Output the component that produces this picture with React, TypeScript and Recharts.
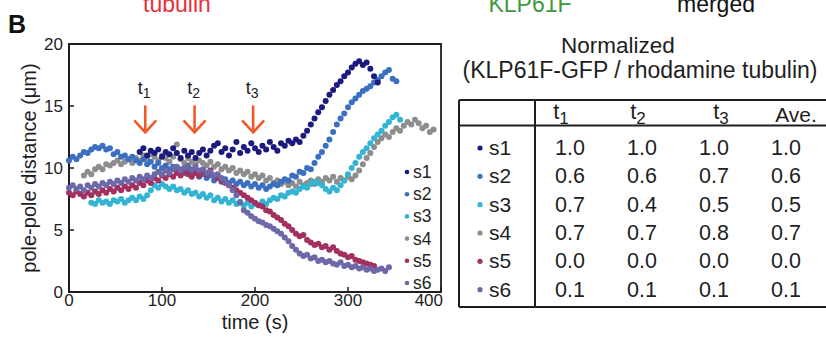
import {
  ScatterChart,
  Scatter,
  XAxis,
  YAxis,
  ReferenceArea,
  ReferenceDot,
  Legend,
} from "recharts"

// sample times (s), shared by all six spindles
const times = [
  0, 4, 8, 12, 16, 20, 24, 28, 32, 36, 40, 44, 48, 52, 56, 60, 64, 68, 72, 76,
  80, 84, 88, 92, 96, 100, 104, 108, 112, 116, 120, 124, 128, 132, 136, 140, 144, 148, 152, 156,
  160, 164, 168, 172, 176, 180, 184, 188, 192, 196, 200, 204, 208, 212, 216, 220, 224, 228, 232, 236,
  240, 244, 248, 252, 256, 260, 264, 268, 272, 276, 280, 284, 288, 292, 296, 300, 304, 308, 312, 316,
  320, 324, 328, 332, 336, 340, 344, 348, 352, 356, 360, 364, 368, 372, 376, 380, 384, 388, 392, 396,
]

const _ = null

// pole-pole distance (µm)
const s1 = [
  _, _, _, _, _, _, _, _, _, _, _, _, _, _, _, _, _, _, _, 11.3,
  11.6, 11.0, 11.4, 11.2, 11.5, 10.9, 11.3, 11.1, 11.6, 11.2, 10.8, 11.4, 11.0, 11.3, 10.8, 11.2, 11.5, 11.0, 11.4, 11.8,
  12.0, 11.3, 11.6, 11.0, 11.5, 12.1, 11.2, 11.7, 11.4, 12.0, 11.6, 11.3, 11.8, 11.5, 12.1, 11.7, 11.4, 12.0, 11.8, 12.2,
  12.0, 12.3, 12.1, 12.6, 13.0, 13.5, 14.0, 14.5, 14.9, 15.4, 15.9, 16.3, 16.7, 17.0, 17.4, 17.7, 18.1, 18.4, 18.6, 18.3,
  18.5, 18.0, 17.4, 16.9, _, _, _, _, _, _, _, _, _, _, _, _, _, _, _, _,
]
const s2 = [
  10.6, 10.9, 10.7, 11.0, 11.3, 11.2, 11.5, 11.7, 11.6, 11.8, 11.5, 11.6, 11.1, 11.3, 10.9, 11.0, 10.7, 10.9, 10.6, 10.4,
  10.7, 10.3, 10.5, 10.1, 10.4, 10.0, 10.2, 9.9, 10.1, 9.7, 9.9, 9.6, 9.8, 9.5, 9.7, 9.3, 9.5, 9.2, 9.4, 9.0,
  9.2, 8.9, 9.1, 8.8, 9.0, 8.7, 8.9, 8.6, 8.8, 8.5, 8.7, 8.4, 8.6, 8.3, 8.5, 8.7, 8.6, 8.9, 9.1, 9.0,
  9.4, 9.3, 9.7, 9.6, 10.0, 9.9, 10.4, 10.9, 11.3, 11.8, 12.3, 12.9, 13.5, 14.0, 14.4, 14.9, 15.3, 15.6, 15.9, 16.2,
  16.4, 16.6, 16.9, 17.1, 17.4, 17.7, 17.9, 17.2, 17.0, _, _, _, _, _, _, _, _, _, _, _,
]
const s3 = [
  _, _, _, _, _, _, 7.2, 7.1, 7.4, 7.2, 7.3, 7.1, 7.4, 7.3, 7.5, 7.2, 7.4, 7.6, 7.4, 7.7,
  7.5, 7.8, 8.2, 8.6, 8.4, 8.7, 8.5, 8.3, 8.5, 8.2, 8.3, 8.0, 8.2, 7.9, 8.0, 7.7, 7.9, 7.6, 7.8, 7.4,
  7.6, 7.3, 7.5, 7.2, 7.4, 7.1, 7.3, 7.0, 7.2, 6.9, 7.1, 7.0, 7.3, 7.1, 7.4, 7.6, 7.5, 7.8, 7.7, 8.0,
  8.1, 8.0, 8.3, 8.5, 8.4, 8.7, 8.9, 8.8, 8.6, 8.3, 8.1, 8.4, 8.2, 8.6, 9.0, 9.5, 10.0, 10.4, 10.9, 11.3,
  11.6, 12.0, 12.4, 12.7, 13.0, 13.4, 13.7, 14.1, 14.3, 13.9, _, _, _, _, _, _, _, _, _, _,
]
const s4 = [
  _, _, _, _, 9.4, 9.7, 9.5, 9.9, 10.1, 9.9, 10.3, 10.2, 10.4, 10.6, 10.3, 10.5, 10.7, 10.4, 10.8, 10.6,
  11.0, 10.7, 11.1, 10.9, 10.6, 11.0, 10.8, 10.5, 10.9, 11.9, 10.7, 10.4, 10.8, 10.5, 10.3, 10.6, 10.4, 10.2, 10.5, 10.1,
  10.3, 9.9, 10.1, 9.8, 10.0, 9.6, 9.8, 9.5, 9.7, 9.3, 9.5, 9.2, 9.4, 9.0, 9.2, 8.8, 9.0, 8.7, 8.9, 8.6,
  8.8, 8.5, 8.9, 8.6, 8.8, 9.0, 8.7, 9.1, 8.9, 9.2, 9.0, 9.3, 8.9, 9.2, 9.0, 9.3, 9.1, 9.4, 9.8, 10.3,
  10.8, 11.2, 11.7, 12.1, 12.4, 12.7, 12.5, 12.9, 13.2, 13.0, 13.4, 13.7, 13.5, 13.9, 13.6, 13.2, 13.4, 12.9, 13.1, _,
]
const s5 = [
  8.0, 7.8, 8.1, 7.9, 7.7, 8.0, 7.8, 8.1, 7.9, 8.2, 8.0, 8.3, 8.1, 8.4, 8.2, 8.5, 8.3, 8.6, 8.4, 8.8,
  8.6, 9.0, 8.8, 9.2, 9.0, 9.4, 9.2, 9.5, 9.3, 9.6, 9.4, 9.7, 9.5, 9.3, 9.6, 9.4, 9.7, 9.5, 9.8, 9.4,
  9.2, 9.0, 8.8, 8.6, 8.4, 8.2, 8.0, 7.8, 7.6, 7.4, 7.2, 7.0, 6.9, 6.6, 6.5, 6.2, 6.0, 5.8, 5.5, 5.3,
  5.0, 4.7, 4.5, 4.6, 4.2, 4.0, 3.8, 3.9, 3.6, 3.7, 3.4, 3.6, 3.3, 3.1, 3.0, 2.8, 2.9, 2.6, 2.5, 2.4,
  2.3, 2.2, 2.1, _, _, _, _, _, _, _, _, _, _, _, _, _, _, _, _, _,
]
const s6 = [
  8.4, 8.6, 8.3, 8.5, 8.2, 8.6, 8.4, 8.7, 8.5, 8.8, 8.6, 8.9, 8.7, 9.0, 8.8, 9.1, 8.9, 9.2, 9.0, 9.3,
  9.1, 9.4, 9.2, 9.5, 9.7, 9.5, 9.8, 9.6, 9.9, 10.1, 9.8, 10.0, 10.2, 9.9, 10.1, 9.8, 9.9, 9.6, 9.7, 9.4,
  9.5, 9.2, 8.9, 8.6, 8.2, 7.8, 7.2, 6.6, 6.4, 6.1, 5.9, 5.7, 5.6, 5.4, 5.3, 5.1, 4.9, 4.7, 4.4, 4.1,
  3.7, 3.4, 3.1, 2.9, 3.0, 2.7, 2.8, 2.5, 2.6, 2.4, 2.5, 2.3, 2.2, 2.4, 2.1, 2.2, 2.0, 2.1, 1.9, 2.0,
  1.8, 1.9, 1.7, 1.8, 1.9, 1.7, 2.0, _, _, _, _, _, _, _, _, _, _, _, _, _,
]

const seriesNames = ["s1", "s2", "s3", "s4", "s5", "s6"]
const seriesValues = [s1, s2, s3, s4, s5, s6]
const seriesColors = ["#1b1a7e", "#3b6fc2", "#33b4d4", "#8d8d8d", "#a3305f", "#6d68a8"]
// drawing order, back to front
const drawOrder = [3, 2, 1, 4, 5, 0]

const xTicks = [0, 100, 200, 300, 400]
const yTicks = [0, 5, 10, 15, 20]

// arrows marking the measurement time points
const arrowTimes = [82, 135, 198]
const arrowLabels = ["1", "2", "3"]

// table: normalized KLP61F-GFP / rhodamine tubulin
const tableCols = ["1", "2", "3"]
const t1Vals = [1.0, 0.6, 0.7, 0.7, 0.0, 0.1]
const t2Vals = [1.0, 0.6, 0.4, 0.7, 0.0, 0.1]
const t3Vals = [1.0, 0.7, 0.5, 0.8, 0.0, 0.1]
const aveVals = [1.0, 0.6, 0.5, 0.7, 0.0, 0.1]

const FONT = "'Liberation Sans', Arial, Helvetica, sans-serif"
const INK = "#1e1e1e"
const ARROW = "#f05a28"

const buildPoints = (vals: (number | null)[]) =>
  times
    .map((t, i) => ({ t, v: vals[i] }))
    .filter((p) => p.v != null)

function ArrowMark(props: any) {
  const { cx, cy, label } = props
  if (cx == null || cy == null) return null
  return (
    <g>
      <text x={cx - 1} y={cy - 24} textAnchor="middle" fontSize={18} fill={INK} fontFamily={FONT}>
        t<tspan fontSize={14} dy={4}>{label}</tspan>
      </text>
      <line x1={cx} y1={cy - 13} x2={cx} y2={cy + 13} stroke={ARROW} strokeWidth={2.6} />
      <polyline
        points={`${cx - 11},${cy + 2} ${cx},${cy + 14} ${cx + 11},${cy + 2}`}
        fill="none"
        stroke={ARROW}
        strokeWidth={2.6}
      />
    </g>
  )
}

// x tick label; y arrives at the inner end of the (inward) tick line
function XTick(props: any) {
  const { x, y, payload } = props
  const last = payload.value === 400
  return (
    <text
      x={last ? x + 2 : x}
      y={y + 19}
      textAnchor={last ? "end" : "middle"}
      fontSize={17}
      fill={INK}
      fontFamily={FONT}
    >
      {payload.value}
    </text>
  )
}

function LegendBox() {
  return (
    <svg width={44} height={136} style={{ overflow: "visible" }}>
      {seriesNames.map((name, i) => (
        <g key={name}>
          <circle cx={7} cy={12 + i * 22.2} r={2.3} fill={seriesColors[i]} />
          <text x={13} y={18 + i * 22.2} fontSize={17.5} fill={INK} fontFamily={FONT}>
            {name}
          </text>
        </g>
      ))}
    </svg>
  )
}

function Table() {
  const left = 459
  const divider = 535
  const top = 100
  const headBottom = 125.5
  const bottom = 307
  const colX = [570, 642, 714, 786]
  const headX = [561, 638, 721]
  const rowY = [155, 183.3, 211.7, 240, 268.3, 296.7]
  const cols = [t1Vals, t2Vals, t3Vals, aveVals]
  return (
    <g fontFamily={FONT} fill={INK}>
      <text x={618} y={53} textAnchor="middle" fontSize={22.5}>Normalized</text>
      <text x={640} y={78} textAnchor="middle" fontSize={23}>(KLP61F-GFP / rhodamine tubulin)</text>
      <g stroke={INK} strokeWidth={2}>
        <line x1={left} y1={top} x2={826} y2={top} />
        <line x1={left} y1={headBottom} x2={826} y2={headBottom} />
        <line x1={left} y1={bottom} x2={826} y2={bottom} />
        <line x1={left} y1={top} x2={left} y2={bottom} />
        <line x1={divider} y1={top} x2={divider} y2={bottom} />
      </g>
      {tableCols.map((c, j) => (
        <text key={c} x={headX[j]} y={119} textAnchor="middle" fontSize={22}>
          t<tspan fontSize={17} dy={5}>{c}</tspan>
        </text>
      ))}
      <text x={796} y={122} textAnchor="middle" fontSize={21}>Ave.</text>
      {seriesNames.map((name, i) => (
        <g key={name}>
          <circle cx={480} cy={rowY[i] - 7} r={2.6} fill={seriesColors[i]} />
          <text x={489} y={rowY[i]} fontSize={21}>{name}</text>
          {cols.map((vals, j) => (
            <text key={j} x={colX[j]} y={rowY[i]} textAnchor="middle" fontSize={21.5}>
              {vals[i].toFixed(1)}
            </text>
          ))}
        </g>
      ))}
    </g>
  )
}

export default function App() {
  return (
    <div
      style={{
        position: "absolute",
        left: 0,
        top: 0,
        width: 826,
        height: 338,
        background: "#fff",
        overflow: "hidden",
        fontFamily: FONT,
      }}
    >
      <svg width={826} height={338} style={{ position: "absolute", left: 0, top: 0 }}>
        <text x={8} y={33} fontSize={25} fontWeight="bold" fill="#111" fontFamily={FONT}>B</text>
        <text x={177} y={12} textAnchor="middle" fontSize={23} fill="#e8303a" fontFamily={FONT}>tubulin</text>
        <text x={530} y={12} textAnchor="middle" fontSize={23} fill="#3d9a3d" fontFamily={FONT}>KLP61F</text>
        <text x={716} y={12} textAnchor="middle" fontSize={23} fill="#111" fontFamily={FONT}>merged</text>
        <text
          x={36}
          y={168}
          transform="rotate(-90 36 168)"
          textAnchor="middle"
          fontSize={20}
          fill={INK}
          fontFamily={FONT}
        >
          pole-pole distance (μm)
        </text>
        <text x={255} y={329} textAnchor="middle" fontSize={20} fill={INK} fontFamily={FONT}>time (s)</text>
        <Table />
      </svg>
      <div style={{ position: "absolute", left: 0, top: 0 }}>
        <ScatterChart width={460} height={338} margin={{ top: 44, right: 19, bottom: 16, left: 9 }}>
          <XAxis
            type="number"
            dataKey="t"
            domain={[0, 400]}
            ticks={xTicks}
            height={30}
            tickSize={-5}
            tickMargin={0}
            axisLine={{ stroke: INK, strokeWidth: 1.8 }}
            tickLine={{ stroke: INK, strokeWidth: 1.5 }}
            tick={<XTick />}
          />
          <YAxis
            type="number"
            dataKey="v"
            domain={[0, 20]}
            ticks={yTicks}
            width={60}
            tickSize={-5}
            tickMargin={11}
            axisLine={{ stroke: INK, strokeWidth: 1.8 }}
            tickLine={{ stroke: INK, strokeWidth: 1.5 }}
            tick={{ fill: INK, fontSize: 17, fontFamily: FONT }}
          />
          {drawOrder.map((k) => (
            <Scatter
              key={seriesNames[k]}
              name={seriesNames[k]}
              data={buildPoints(seriesValues[k])}
              fill={seriesColors[k]}
              isAnimationActive={false}
              shape={(p: any) => <circle cx={p.cx} cy={p.cy} r={3} fill={seriesColors[k]} />}
            />
          ))}
          <ReferenceArea x1={0} x2={400} y1={0} y2={20} fill="none" stroke={INK} strokeWidth={1.8} />
          {arrowTimes.map((t, i) => (
            <ReferenceDot
              key={t}
              x={t}
              y={14}
              r={0}
              shape={(p: any) => <ArrowMark {...p} label={arrowLabels[i]} />}
            />
          ))}
          <Legend
            layout="vertical"
            align="center"
            verticalAlign="middle"
            wrapperStyle={{ position: "absolute", left: 400, top: 160, width: 44, height: 136 }}
            content={() => <LegendBox />}
          />
        </ScatterChart>
      </div>
    </div>
  )
}
